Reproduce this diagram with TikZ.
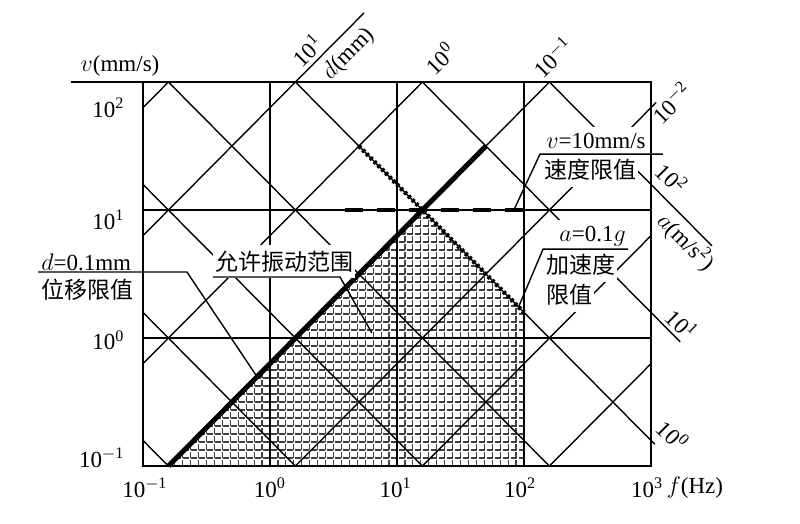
\documentclass[tikz,border=0pt]{standalone}
\usepackage{fontspec}
\setmainfont{Liberation Serif}
\newfontfamily\cjk{Noto Sans CJK SC}
\newcommand{\tenpow}[1]{10\textsuperscript{#1}}

\begin{document}
\begin{tikzpicture}[x=63.5pt,y=64pt,font=\fontsize{11.5}{13}\selectfont,
        gridline/.style={line width=0.7pt},
        lbl/.style={fill=white,inner xsep=1pt,inner ysep=3pt},
        dlimit/.style={line width=2.5pt},
        vlimit/.style={line width=2.2pt,dash pattern=on 9pt off 7pt},
        alimit/.style={line width=2.2pt,dash pattern=on 1.4pt off 1.3pt}]
        \useasboundingbox (-2.126,-1.445) rectangle (4.173,2.641);
        % allowed zone
        \begin{scope}
        \clip (-0.8,-1) -- (1.2,1) -- (2,0.2) -- (2,-1) -- cycle;
        \draw[black!75,line width=0.6pt,dash pattern=on 3pt off 1pt,xstep=3.96875pt,ystep=4pt] (-1,-1) grid (2,1);
        \end{scope}
        % frame and grid
        \draw[gridline] (-1.567,2) -- (3,2) -- (3,-1) -- (-1,-1) -- (-1,2);
        \foreach \gx in {0,1,2} \draw[gridline] (\gx,-1) -- (\gx,2);
        \foreach \gy in {0,1} \draw[gridline] (-1,\gy) -- (3,\gy);
        % d and a lines
        \begin{scope}
        \clip (-1,-1) rectangle (3,2);
        \foreach \k in {2,1,0,-1,-2,-3,-4} {
          \draw[gridline] (-2,{\k+0.8-2}) -- (4,{\k+0.8+4});
          \draw[gridline] (-2,{\k+2.2+2}) -- (4,{\k+2.2-4});
        }
        \end{scope}
        \draw[gridline] (0.2,2) -- (0.74,2.54);
        \draw[gridline] (3,1.8) -- (3.04,1.84);
        \draw[gridline] (3,1.2) -- (3.48,0.72);
        \draw[gridline] (3,0.2) -- (3.23,-0.03);
        \draw[gridline] (3,-0.8) -- (3.03,-0.83);
        % limits
        \draw[dlimit] (-0.8,-1) -- (1.7,1.5);
        \draw[alimit] (0.7,1.5) -- (2,0.2);
        \draw[vlimit] (0.59,1) -- (2,1);
        % axes
        \node(vaxis) at (-1.181,2.125) {$v$(mm/s)};
        \node[anchor=east](v2) at (-1.09,1.797) {\tenpow{2}};
        \node[anchor=east](v1) at (-1.09,0.922) {\tenpow{1}};
        \node[anchor=east](v0) at (-1.09,-0.016) {\tenpow{0}};
        \node[anchor=east](vm1) at (-1.09,-0.9375) {\tenpow{$-$1}};
        \node(fm1) at (-0.985,-1.172) {\tenpow{$-$1}};
        \node(f0) at (0,-1.172) {\tenpow{0}};
        \node(f1) at (0.99,-1.172) {\tenpow{1}};
        \node(f2) at (1.97,-1.172) {\tenpow{2}};
        \node(f3) at (2.97,-1.172) {\tenpow{3}};
        \node(faxis) at (3.346,-1.172) {$f$(Hz)};
        \node[rotate=45](d1) at (0.291,2.25) {\tenpow{1}};
        \node[rotate=45](daxis) at (0.62,2.22) {$d$(mm)};
        \node[rotate=45](d0) at (1.339,2.1875) {\tenpow{0}};
        \node[rotate=45](dm1) at (2.228,2.195) {\tenpow{$-$1}};
        \node[rotate=45](dm2) at (3.16,1.84) {\tenpow{$-$2}};
        \node[rotate=-45](a2) at (3.165,1.25) {\tenpow{2}};
        \node[rotate=-45](aaxis) at (3.275,0.75) {$a$(m/s\textsuperscript{2})};
        \node[rotate=-45](a1) at (3.244,0.109) {\tenpow{1}};
        \node[rotate=-45](a0) at (3.173,-0.758) {\tenpow{0}};
        % callouts
        \node[lbl,anchor=west](dlim) at (-1.819,0.594) {$d$=0.1mm};
        \node[lbl,anchor=west](dlimcn) at (-1.819,0.375) {\cjk 位移限值};
        \node[lbl,anchor=west](zone) at (-0.449,0.60) {\cjk 允许振动范围};
        \node[lbl,anchor=west](vlim) at (2.157,1.539) {$v$=10mm/s};
        \node[lbl,anchor=west](vlimcn) at (2.142,1.3125) {\cjk 速度限值};
        \node[lbl,anchor=west](alim) at (2.26,0.797) {$a$=0.1$g$};
        \node[lbl,anchor=west](alimcn) at (2.157,0.570) {\cjk 加速度};
        \node[lbl,anchor=west](alimcn2) at (2.157,0.336) {\cjk 限值};
        \coordinate(dlimA) at (-1.827,0.516);
        \coordinate(dlimB) at (-0.654,0.516);
        \coordinate(dlimE) at (-0.102,-0.302);
        \coordinate(zoneA) at (-0.449,0.477);
        \coordinate(zoneB) at (0.551,0.477);
        \coordinate(zoneE) at (0.803,0.039);
        \coordinate(vlimA) at (2.126,1.4375);
        \coordinate(vlimB) at (3.094,1.4375);
        \coordinate(vlimE) at (1.92,1);
        \coordinate(alimA) at (2.15,0.695);
        \coordinate(alimB) at (2.819,0.695);
        \coordinate(alimE) at (1.96,0.25);
        \draw[gridline] (dlimA) -- (dlimB) -- (dlimE);
        \draw[gridline] (zoneA) -- (zoneB) -- (zoneE);
        \draw[gridline] (vlimB) -- (vlimA) -- (vlimE);
        \draw[gridline] (alimB) -- (alimA) -- (alimE);
\end{tikzpicture}
\end{document}
